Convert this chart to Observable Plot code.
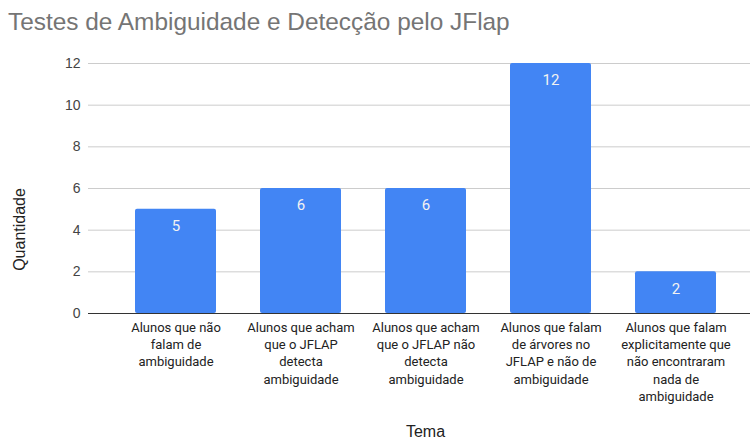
<!DOCTYPE html>
<html>
<head>
<meta charset="utf-8">
<script src="https://cdn.jsdelivr.net/npm/d3@7"></script>
<script src="https://cdn.jsdelivr.net/npm/@observablehq/plot@0.6"></script>
<style>
  body { margin: 0; background: #fff; }
  #title { height: 44px; box-sizing: border-box; padding: 8px 0 0 8px; font-family: "Liberation Sans", Arial, sans-serif; font-size: 24.4px; color: #757575; line-height: 28px; white-space: nowrap; }
  #chart svg { display: block; }
</style>
</head>
<body>
<div id="title">Testes de Ambiguidade e Detecção pelo JFlap</div>
<div id="chart"></div>
<script>
const categories = [
  "Alunos que não\nfalam de\nambiguidade",
  "Alunos que acham\nque o JFLAP\ndetecta\nambiguidade",
  "Alunos que acham\nque o JFLAP não\ndetecta\nambiguidade",
  "Alunos que falam\nde árvores no\nJFLAP e não de\nambiguidade",
  "Alunos que falam\nexplicitamente que\nnão encontraram\nnada de\nambiguidade"
];
const values = [5, 6, 6, 12, 2];
const yTicks = [0, 2, 4, 6, 8, 10, 12];

const data = categories.map((c, i) => ({tema: c, quantidade: values[i]}));

const chart = Plot.plot({
  width: 752,
  height: 400,
  marginTop: 19,
  marginBottom: 131,
  marginLeft: 88,
  marginRight: 2,
  style: {fontFamily: "Roboto, Arial, sans-serif", background: "#fff"},
  x: {domain: categories, range: [133.3, 718.3], paddingInner: 0.35, paddingOuter: 0},
  y: {domain: [0, 12]},
  marks: [
    Plot.ruleY(yTicks.filter(d => d > 0), {stroke: "#cccccc", strokeWidth: 1}),
    Plot.barY(data, {x: "tema", y: "quantidade", fill: "#4285F4", rx: 2}),
    Plot.ruleY([0], {stroke: "#333333", strokeWidth: 1}),
    Plot.text(data, {x: "tema", y: "quantidade", text: d => String(d.quantidade), dy: 17, fill: "#f2f2f2", fontSize: 15, fontFamily: "Roboto, Arial, sans-serif"}),
    Plot.axisY({ticks: yTicks, tickSize: 0, tickPadding: 8, fontSize: 14, fill: "#444", label: null, fontFamily: "Liberation Sans, Arial, sans-serif"}),
    Plot.axisX({tickSize: 0, tickPadding: 6, fontSize: 13, lineHeight: 1.33, fill: "#222", label: null, textAnchor: "middle", lineAnchor: "top"}),
    Plot.text(["Quantidade"], {frameAnchor: "left", textAnchor: "middle", dx: -69, dy: 41, rotate: -90, fontSize: 16, fill: "#222", fontFamily: "Liberation Sans, Arial, sans-serif"}),
    Plot.text(["Tema"], {frameAnchor: "bottom", dx: 6, dy: 123, fontSize: 16, fill: "#222", fontFamily: "Liberation Sans, Arial, sans-serif"})
  ]
});
document.getElementById("chart").appendChild(chart);
</script>
</body>
</html>
